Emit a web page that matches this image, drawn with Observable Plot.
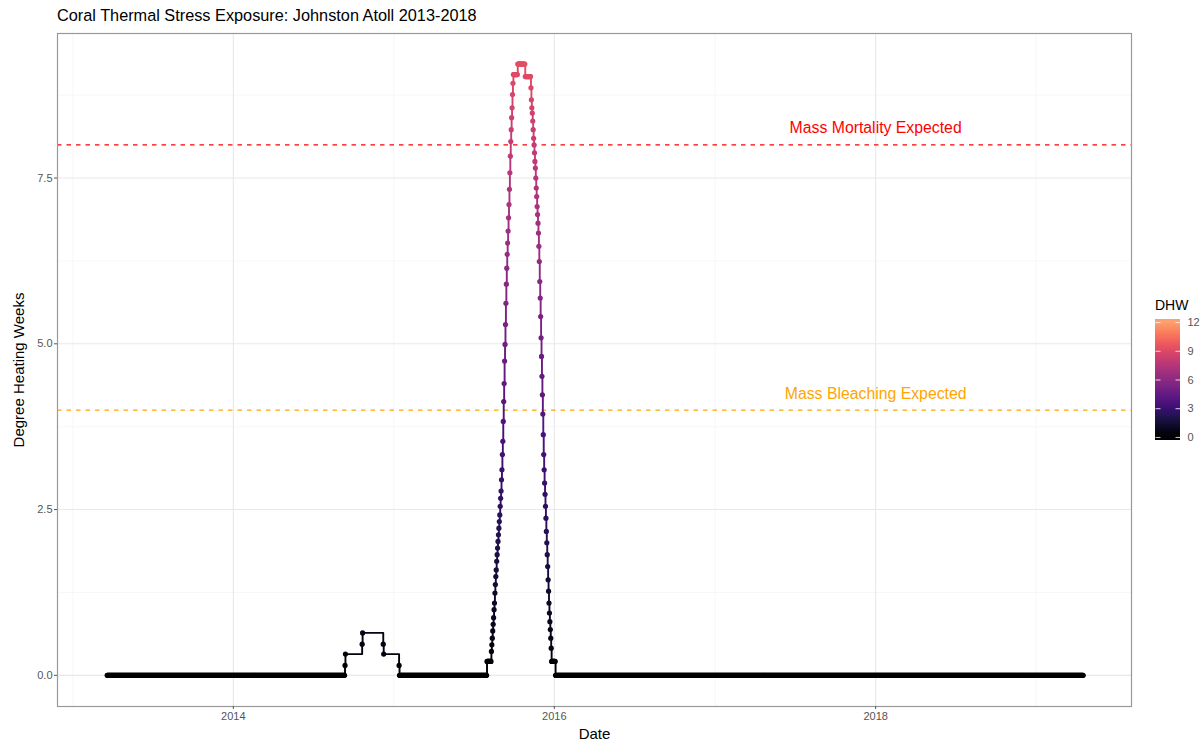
<!DOCTYPE html>
<html>
<head>
<meta charset="utf-8">
<script src="https://cdn.jsdelivr.net/npm/d3@7"></script>
<script src="https://cdn.jsdelivr.net/npm/@observablehq/plot@0.6"></script>
<style>
  body { margin: 0; background: #ffffff; font-family: "Liberation Sans", Arial, sans-serif; }
  #wrap { position: relative; width: 1201px; height: 744px; overflow: hidden; }
  #title { height: 30px; line-height: 30px; padding-left: 57px; font-size: 16.3px; color: #000; white-space: nowrap; }
  #legend-title { position: absolute; left: 1155px; top: 297px; font-size: 14px; color: #000; }
  #legend { position: absolute; left: 1155px; top: 319px; width: 46px; overflow: visible; }
  #legend svg { max-width: none !important; }
</style>
</head>
<body>
<div id="wrap">
  <div id="title">Coral Thermal Stress Exposure: Johnston Atoll 2013-2018</div>
  <div id="chart"></div>
  <div id="legend-title">DHW</div>
  <div id="legend"></div>
</div>
<script>
// ---------------- DATA ----------------
// Daily runs where DHW holds one value (start date, end date inclusive, value)
const runStarts = ["2013-03-20", "2015-01-14", "2015-08-01", "2015-09-30", "2015-10-10", "2015-10-27", "2015-12-26", "2016-01-04"];
const runEnds   = ["2014-09-11", "2015-07-31", "2015-08-10", "2015-10-09", "2015-10-26", "2015-11-08", "2016-01-03", "2019-04-18"];
const runValues = [0, 0, 0.21, 9.06, 9.22, 9.03, 0.21, 0];

// 2014 minor event: sparse observations at the steps
const bumpDates  = ["2014-09-12", "2014-09-13", "2014-10-21", "2014-10-22", "2014-12-08", "2014-12-09", "2015-01-13"];
const bumpValues = [0.15, 0.32, 0.47, 0.64, 0.47, 0.32, 0.15];

// 2015 event: daily values on the rising limb
const riseStart = "2015-08-11";
const riseValues = [0.36, 0.46, 0.56, 0.67, 0.77, 0.87, 0.99, 1.09, 1.24, 1.37,
                    1.49, 1.59, 1.72, 1.82, 1.92, 2.02, 2.12, 2.22, 2.32, 2.42,
                    2.55, 2.67, 2.78, 2.95, 3.10, 3.33, 3.53, 3.83, 4.13, 4.40,
                    4.74, 4.99, 5.29, 5.61, 5.90, 6.14, 6.35, 6.52, 6.70, 6.90,
                    7.10, 7.33, 7.58, 7.83, 8.05, 8.23, 8.41, 8.56, 8.76, 8.93];

// 2015 event: daily values on the falling limb
const fallStart = "2015-11-09";
const fallValues = [8.86, 8.68, 8.56, 8.48, 8.36, 8.23, 8.10, 8.00, 7.88, 7.75,
                    7.65, 7.50, 7.35, 7.22, 7.07, 6.95, 6.82, 6.67, 6.47, 6.24,
                    5.94, 5.69, 5.41, 5.09, 4.81, 4.51, 4.23, 3.94, 3.63, 3.33,
                    3.10, 2.90, 2.73, 2.55, 2.37, 2.17, 2.00, 1.82, 1.64, 1.44,
                    1.27, 1.09, 0.94, 0.81, 0.69, 0.56, 0.41];

// Threshold lines and their labels
const thresholdValues = [8, 4];
const thresholdColors = ["#ff0000", "#ffa500"];
const thresholdLabels = ["Mass Mortality Expected", "Mass Bleaching Expected"];
const labelDate = "2018-01-01";
const labelValues = [8.25, 4.25];

// Axes
const yTicks = [0, 2.5, 5, 7.5];
const yMinor = [1.25, 3.75, 6.25, 8.75];
const xTicks = ["2014-01-01", "2016-01-01", "2018-01-01"];
const xMinor = ["2013-01-01", "2015-01-01", "2017-01-01", "2019-01-01"];
const legendTicks = [0, 3, 6, 9, 12];
const colorDomain = [0, 12];

// ---------------- BUILD ----------------
const parse = d3.utcParse("%Y-%m-%d");
const rows = [];
runStarts.forEach((s, i) => {
  for (const d of d3.utcDay.range(parse(s), d3.utcDay.offset(parse(runEnds[i]), 1))) {
    rows.push({date: d, dhw: runValues[i]});
  }
});
bumpDates.forEach((s, i) => rows.push({date: parse(s), dhw: bumpValues[i]}));
riseValues.forEach((v, i) => rows.push({date: d3.utcDay.offset(parse(riseStart), i), dhw: v}));
fallValues.forEach((v, i) => rows.push({date: d3.utcDay.offset(parse(fallStart), i), dhw: v}));
rows.sort((a, b) => a.date - b.date);

const colorOpts = {type: "linear", domain: colorDomain, clamp: true, interpolate: t => d3.interpolateMagma(0.8 * t)};
const font = "Liberation Sans, Arial, sans-serif";

const thresholdMarks = thresholdValues.map((v, i) =>
  Plot.ruleY([v], {stroke: thresholdColors[i], strokeWidth: 1.1, strokeDasharray: "4.5,5"}));
const labelMarks = thresholdLabels.map((t, i) =>
  Plot.text([{date: parse(labelDate), y: labelValues[i], label: t}],
    {x: "date", y: "y", text: "label", fill: thresholdColors[i], fontSize: 15.8, textAnchor: "middle"}));

const chart = Plot.plot({
  width: 1201,
  height: 714,
  marginTop: 3,
  marginBottom: 38,
  marginLeft: 57,
  marginRight: 70,
  style: {fontFamily: font, fontSize: "11px", background: "#ffffff", overflow: "visible"},
  x: {type: "utc", domain: [parse("2012-11-27"), parse("2019-08-06")]},
  y: {domain: [-0.47, 9.68]},
  color: colorOpts,
  marks: [
    Plot.gridX(xMinor.map(parse), {stroke: "#f3f3f3", strokeOpacity: 1, strokeWidth: 0.7}),
    Plot.gridY(yMinor, {stroke: "#f3f3f3", strokeOpacity: 1, strokeWidth: 0.7}),
    Plot.gridX(xTicks.map(parse), {stroke: "#e8e8e8", strokeOpacity: 1, strokeWidth: 1.1}),
    Plot.gridY(yTicks, {stroke: "#e8e8e8", strokeOpacity: 1, strokeWidth: 1.1}),
    ...thresholdMarks,
    Plot.line(rows, {x: "date", y: "dhw", stroke: "dhw", z: null, curve: "step-after", strokeWidth: 1.9}),
    Plot.dot(rows, {x: "date", y: "dhw", fill: "dhw", r: 2.6}),
    ...labelMarks,
    Plot.frame({stroke: "#999999", strokeWidth: 1.2}),
    Plot.axisX(xTicks.map(parse), {tickFormat: d3.utcFormat("%Y"), tickSize: 3, tickPadding: 3, fontSize: 11, fill: "#555555", stroke: "#555555", label: null}),
    Plot.axisY(yTicks, {tickFormat: d3.format(".1f"), tickSize: 3, tickPadding: 2, fontSize: 11, fill: "#555555", stroke: "#555555", label: null}),
    Plot.text(["Date"], {frameAnchor: "bottom", dy: 32, fontSize: 15, fill: "#000", textAnchor: "middle"}),
    Plot.text(["Degree Heating Weeks"], {frameAnchor: "left", dx: -38, rotate: -90, fontSize: 15, fill: "#000", textAnchor: "middle", lineAnchor: "middle"})
  ]
});
document.getElementById("chart").appendChild(chart);

// Colour bar legend (ramp built from the colour scale)
const nBins = 60;
const legendLo = -0.32, legendHi = 12.32;
const binStep = (legendHi - legendLo) / nBins;
const legendBins = d3.range(nBins).map(i => ({
  y1: legendLo + i * binStep,
  y2: Math.min(legendHi, legendLo + (i + 1.6) * binStep),
  v: legendLo + (i + 0.5) * binStep
}));
const legendTickRows = legendTicks.flatMap(t => [{t, a: 0, b: 0.2}, {t, a: 0.8, b: 1}]);
const legend = Plot.plot({
  width: 46,
  height: 121,
  marginTop: 0, marginBottom: 0, marginLeft: 0, marginRight: 21,
  style: {fontFamily: font, fontSize: "11px", background: "transparent", overflow: "visible", maxWidth: "none"},
  x: {domain: [0, 1], axis: null},
  y: {domain: [legendLo, legendHi]},
  color: colorOpts,
  marks: [
    Plot.rect(legendBins, {x1: () => 0, x2: () => 1, y1: "y1", y2: "y2", fill: "v", shapeRendering: "crispEdges"}),
    Plot.link(legendTickRows, {x1: "a", x2: "b", y1: "t", y2: "t", stroke: "#ffffff", strokeWidth: 0.8}),
    Plot.axisY(legendTicks, {anchor: "right", tickSize: 0, tickPadding: 7, fontSize: 11, fill: "#555555", label: null})
  ]
});
document.getElementById("legend").appendChild(legend);
</script>
</body>
</html>
